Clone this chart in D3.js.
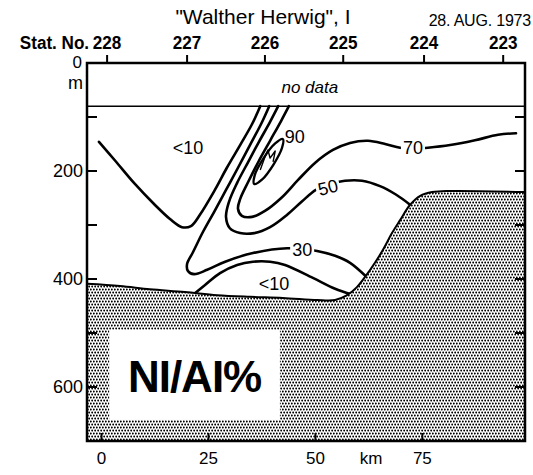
<!DOCTYPE html>
<html><head><meta charset="utf-8">
<script src="https://cdn.jsdelivr.net/npm/d3@7"></script>
<style>
html,body{margin:0;padding:0;background:#fff;}
svg{display:block;}
text{font-family:"Liberation Sans",Arial,Helvetica,sans-serif;fill:#000;}
</style></head><body>
<svg id="chart" width="533" height="475"></svg>
<script>
// ---------- data ----------
const titleText = "\"Walther Herwig\", I";
const dateText = "28. AUG. 1973";
const stationPrefix = "Stat. No.";
const stationLabels = ["228", "227", "226", "225", "224", "223"];
const stationKm = [1.3, 20.0, 38.2, 56.5, 75.4, 93.9];
const kmTicks = [0, 25, 50, 75];
const depthLabels = [200, 400, 600];
const depthTicks = [100, 200, 300, 400, 500, 600];
const noDataDepth = 80;
const xDomain = [-3.4, 99];
const yDomain = [0, 700];

// seabed profile [km, depth m]
const seabed = [[-3.4,409],[4.3,413],[11.3,419],[19.5,424],[27.0,430],[34.7,433],[42.4,435],[50.4,439],[54.6,439],[57.2,431],[59.7,415],[62.8,383],[65.8,346],[67.9,315],[69.8,291],[72.1,263],[74.5,246],[77.3,239],[81.5,237],[99,239]];

// isolines [km, depth m]
const iso10a = [[-0.6,146],[3.2,181],[7.8,224],[12.5,263],[16.0,289],[18.8,304],[20.9,302],[23.0,281],[26.5,235],[29.3,194],[32.4,152],[35.2,113],[37.1,80]];
const iso10b = [[21.9,426],[24.2,411],[27.7,389],[31.7,374],[35.4,368],[39.4,368],[42.9,374],[49.4,398],[54.6,418],[58.3,428]];
const iso30 = [[39.2,80],[37.3,113],[34.7,152],[31.9,194],[29.1,235],[26.3,276],[23.7,313],[21.4,350],[20.0,372],[20.2,385],[21.6,391],[24.7,383],[28.9,368],[35.4,352],[43.4,343],[50.4,348],[54.6,357],[58.1,370],[61.8,395]];
const iso50 = [[41.3,80],[39.4,109],[36.8,146],[34.3,183],[31.7,222],[29.8,257],[29.1,285],[30.0,306],[32.4,315],[35.7,315],[39.4,304],[43.4,281],[46.9,256],[50.1,235],[53.4,224],[56.9,218],[60.9,218],[65.1,228],[68.9,244],[71.9,261]];
const iso70 = [[43.8,80],[42.0,107],[39.4,144],[36.8,181],[34.3,220],[32.4,252],[31.9,270],[32.8,283],[35.2,285],[38.2,274],[42.0,250],[45.9,217],[49.9,185],[54.1,161],[58.1,148],[62.3,144],[66.3,150],[69.8,157],[72.8,159],[76.3,157],[81.5,152],[87.3,143],[92.7,133],[96.9,130]];
const iso90 = [[42.4,141],[42.2,157],[40.2,188],[37.5,216],[35.7,224],[35.8,208],[37.9,176],[40.6,149]];
const iso90core = [[37.1,198],[38.2,174],[38.9,161],[39.4,176],[40.6,163],[40.1,183]];

// isoline labels
const labelTexts = ["<10", "<10", "30", "50", "70", "90"];
const labelKm = [20.2, 40.3, 46.9, 52.9, 72.8, 45.2];
const labelDepth = [157, 409, 346, 230, 157, 137];
const labelAngle = [0, 0, 0, -14, 0, 0];
const labelKnockout = [false, false, true, true, true, false];

const panelTitle = "NI/AI%";
const panelBox = [1.8, 41.7, 494, 661]; // km0, km1, depth0, depth1
const noDataText = "no data";

// ---------- drawing ----------
const svg = d3.select("#chart");
const x = d3.scaleLinear().domain(xDomain).range([87, 525]);
const y = d3.scaleLinear().domain(yDomain).range([63, 441]);

svg.append("rect").attr("width", 533).attr("height", 475).attr("fill", "#fff");

const defs = svg.append("defs");
const pat = defs.append("pattern").attr("id", "stipple")
  .attr("patternUnits", "userSpaceOnUse").attr("width", 3).attr("height", 6);
pat.append("rect").attr("width", 3).attr("height", 6).attr("fill", "#fff");
pat.append("circle").attr("cx", 0.75).attr("cy", 1.5).attr("r", 1.05).attr("fill", "#000");
pat.append("circle").attr("cx", 2.25).attr("cy", 4.5).attr("r", 1.05).attr("fill", "#000");

const clip = defs.append("clipPath").attr("id", "plotclip");
clip.append("rect").attr("x", x(xDomain[0])).attr("y", y(0))
  .attr("width", x(xDomain[1]) - x(xDomain[0])).attr("height", y(700) - y(0));

const line = d3.line().x(d => x(d[0])).y(d => y(d[1])).curve(d3.curveCatmullRom.alpha(0.5));
const closed = d3.line().x(d => x(d[0])).y(d => y(d[1])).curve(d3.curveCatmullRomClosed.alpha(0.5));

const plot = svg.append("g").attr("clip-path", "url(#plotclip)");

// isolines
[iso10a, iso10b, iso30, iso50, iso70].forEach(d => {
  plot.append("path").attr("d", line(d)).attr("fill", "none")
    .attr("stroke", "#000").attr("stroke-width", 2.6).attr("stroke-linejoin", "round").attr("stroke-linecap", "round");
});
plot.append("path").attr("d", closed(iso90)).attr("fill", "none")
  .attr("stroke", "#000").attr("stroke-width", 2.4);
plot.append("path").attr("d", d3.line().x(d => x(d[0])).y(d => y(d[1]))(iso90core)).attr("fill", "none")
  .attr("stroke", "#000").attr("stroke-width", 1.4).attr("stroke-linejoin", "round");

// no data line
plot.append("line").attr("x1", x(xDomain[0])).attr("x2", x(xDomain[1]))
  .attr("y1", y(noDataDepth)).attr("y2", y(noDataDepth))
  .attr("stroke", "#000").attr("stroke-width", 1.6);
plot.append("text").attr("x", x(48.7)).attr("y", y(44) + 6)
  .attr("text-anchor", "middle").attr("font-size", 17).attr("font-style", "italic")
  .text(noDataText);

// seabed
const area = d3.area().x(d => x(d[0])).y0(y(700)).y1(d => y(d[1])).curve(d3.curveCatmullRom.alpha(0.5));
plot.append("path").attr("d", area(seabed)).attr("fill", "url(#stipple)");
plot.append("path").attr("d", line(seabed)).attr("fill", "none")
  .attr("stroke", "#000").attr("stroke-width", 2);

// isoline labels
labelTexts.forEach((t, i) => {
  const tx = x(labelKm[i]), ty = y(labelDepth[i]);
  const g = svg.append("g").attr("transform", `translate(${tx},${ty}) rotate(${labelAngle[i]})`);
  const txt = g.append("text").attr("text-anchor", "middle").attr("dy", "0.36em")
    .attr("font-size", 18).text(t);
  if (labelKnockout[i]) {
    const bb = txt.node().getBBox();
    g.insert("rect", "text").attr("x", bb.x - 2).attr("y", bb.y + 2)
      .attr("width", bb.width + 4).attr("height", bb.height - 4).attr("fill", "#fff");
  }
});

// panel title box
svg.append("rect").attr("x", x(panelBox[0])).attr("y", y(panelBox[2]))
  .attr("width", x(panelBox[1]) - x(panelBox[0])).attr("height", y(panelBox[3]) - y(panelBox[2]))
  .attr("fill", "#fff");
svg.append("text").attr("x", (x(panelBox[0]) + x(panelBox[1])) / 2).attr("y", y(609))
  .attr("text-anchor", "middle").attr("font-size", 44).attr("font-weight", "bold")
  .attr("letter-spacing", -1).text(panelTitle);

// frame
svg.append("rect").attr("x", x(xDomain[0])).attr("y", y(0))
  .attr("width", x(xDomain[1]) - x(xDomain[0])).attr("height", y(700) - y(0))
  .attr("fill", "none").attr("stroke", "#000").attr("stroke-width", 2.5);

// left / right depth ticks (inside)
depthTicks.forEach(d => {
  svg.append("line").attr("x1", x(xDomain[0])).attr("x2", x(xDomain[0]) + 10)
    .attr("y1", y(d)).attr("y2", y(d)).attr("stroke", "#000").attr("stroke-width", 2);
  svg.append("line").attr("x1", x(xDomain[1])).attr("x2", x(xDomain[1]) - 10)
    .attr("y1", y(d)).attr("y2", y(d)).attr("stroke", "#000").attr("stroke-width", 2);
});
depthLabels.forEach(d => {
  svg.append("text").attr("x", x(xDomain[0]) - 4).attr("y", y(d)).attr("dy", "0.36em")
    .attr("text-anchor", "end").attr("font-size", 18).text(d);
});
svg.append("text").attr("x", x(xDomain[0]) - 5).attr("y", y(0) + 5)
  .attr("text-anchor", "end").attr("font-size", 17).text("0");
svg.append("text").attr("x", x(xDomain[0]) - 4).attr("y", y(0) + 26)
  .attr("text-anchor", "end").attr("font-size", 18).text("m");

// bottom km axis
kmTicks.forEach(k => {
  svg.append("line").attr("x1", x(k)).attr("x2", x(k)).attr("y1", y(700)).attr("y2", y(700) - 8)
    .attr("stroke", "#000").attr("stroke-width", 2);
  svg.append("text").attr("x", x(k)).attr("y", y(700) + 23)
    .attr("text-anchor", "middle").attr("font-size", 17).text(k);
});
svg.append("text").attr("x", x(63.0)).attr("y", y(700) + 23)
  .attr("text-anchor", "middle").attr("font-size", 17).text("km");

// top station axis
stationKm.forEach((k, i) => {
  svg.append("line").attr("x1", x(k)).attr("x2", x(k)).attr("y1", y(0)).attr("y2", y(0) - 8)
    .attr("stroke", "#000").attr("stroke-width", 2);
  svg.append("text").attr("transform", `translate(${x(k)},${y(0) - 14}) scale(0.9,1)`)
    .attr("text-anchor", "middle").attr("font-size", 19).attr("font-weight", "bold")
    .text(stationLabels[i]);
});
svg.append("text").attr("transform", `translate(${x(stationKm[0]) - 18},${y(0) - 14}) scale(0.9,1)`)
  .attr("text-anchor", "end").attr("font-size", 19).attr("font-weight", "bold").text(stationPrefix);

// title and date
svg.append("text").attr("x", 263).attr("y", 24).attr("text-anchor", "middle")
  .attr("font-size", 21).text(titleText);
svg.append("text").attr("x", 531).attr("y", 26).attr("text-anchor", "end")
  .attr("font-size", 16).attr("letter-spacing", -0.2).text(dateText);
</script>
</body></html>
